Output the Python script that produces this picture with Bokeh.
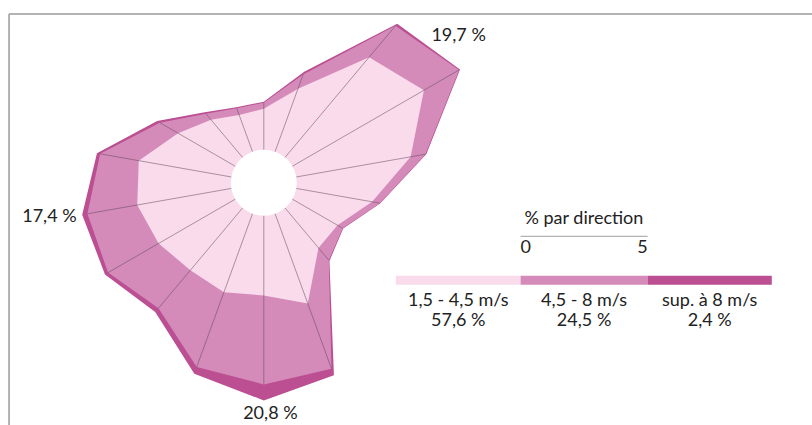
import numpy as np
from bokeh.plotting import figure
from bokeh.models import Range1d
from bokeh.core.properties import value
from bokeh.embed import file_html
from bokeh.resources import INLINE

# ---- data (percent per 20-degree direction) ----
directions = [0, 20, 40, 60, 80, 100, 120, 140, 160, 180, 200, 220, 240, 260, 280, 300, 320, 340]
speed_low = [1.61, 2.64, 5.15, 5.98, 4.57, 3.03, 2.05, 2.05, 3.76, 3.14, 3.29, 3.20, 3.48, 3.76, 3.70, 2.60, 1.93, 1.54]
speed_mid = [0.24, 0.59, 1.61, 1.60, 0.59, 0.31, 0.24, 0.63, 2.73, 3.50, 3.13, 1.95, 2.30, 1.99, 1.54, 0.83, 0.31, 0.28]
speed_high = [0.04, 0.12, 0.11, 0.04, 0.04, 0.02, 0.02, 0.04, 0.28, 0.63, 0.28, 0.20, 0.14, 0.21, 0.13, 0.12, 0.08, 0.04]

class_labels = ["1,5 - 4,5 m/s", "4,5 - 8 m/s", "sup. à 8 m/s"]
class_totals = ["57,6 %", "24,5 %", "2,4 %"]
sector_labels = ["19,7 %", "17,4 %", "20,8 %"]
scale_ticks = ["0", "5"]
scale_title = "% par direction"

colors = ["#f9dbeb", "#d58bba", "#bb4f92"]
HOLE = 1.3
PX = 25.4  # px per percent unit

W, H = 812, 425
cx, cy = 263.3, 182.2
p = figure(width=W, height=H, output_backend="svg", toolbar_location=None,
           x_range=Range1d(-cx / PX, (W - cx) / PX),
           y_range=Range1d(-(H - cy) / PX, cy / PX),
           x_axis_type=None, y_axis_type=None, min_border=0)
p.grid.visible = False
p.outline_line_color = None
p.background_fill_color = "white"
p.border_fill_color = "white"

th = np.radians(np.array(directions, dtype=float))
c1 = HOLE + np.array(speed_low)
c2 = c1 + np.array(speed_mid)
c3 = c2 + np.array(speed_high)

for r, col in zip([c3, c2, c1], [colors[2], colors[1], colors[0]]):
    p.patch(x=list(r * np.sin(th)), y=list(r * np.cos(th)), fill_color=col, line_color=None)

p.circle(x=[0], y=[0], radius=HOLE, fill_color="white", line_color=None)

p.segment(x0=list(HOLE * np.sin(th)), y0=list(HOLE * np.cos(th)),
          x1=list(c2 * np.sin(th)), y1=list(c2 * np.cos(th)),
          line_color="#5a4658", line_width=0.6, line_alpha=0.85)

font = value("Lato")
txt = dict(text_font=font, text_font_size="18px", text_baseline="middle", text_color="#222222")

# sector total labels
lab_x = [7.67, -8.44, 0.26]
lab_y = [5.87, -1.29, -9.01]
p.text(x=lab_x, y=lab_y, text=sector_labels, text_align="center", **txt)

# frame
p.segment(x0=[-10.03, -10.03], y0=[6.64, 6.64], x1=[-10.03, 25.0], y1=[-12.0, 6.64],
          line_color="#9a9a9a", line_width=1.5)

# scale bar legend
s0 = 10.11
p.segment(x0=[s0], y0=[-2.11], x1=[s0 + 5], y1=[-2.11], line_color="#a0a0a0", line_width=1)
p.text(x=[s0 + 2.5], y=[-1.37], text=[scale_title], text_align="center", **txt)
p.text(x=[s0], y=[-2.53], text=[scale_ticks[0]], text_align="left", **txt)
p.text(x=[s0 + 5], y=[-2.53], text=[scale_ticks[1]], text_align="right", **txt)

# class colour bars
bl = [5.2, 10.11, 15.11]
br = [10.11, 15.11, 20.0]
p.quad(left=bl, right=br, top=[-3.66] * 3, bottom=[-4.02] * 3, fill_color=colors, line_color=None)
mid = [(a + b) / 2 for a, b in zip(bl, br)]
p.text(x=mid, y=[-4.56] * 3, text=class_labels, text_align="center", **txt)
p.text(x=mid, y=[-5.35] * 3, text=class_totals, text_align="center", **txt)

open("out.html", "w").write(file_html(p, INLINE))
